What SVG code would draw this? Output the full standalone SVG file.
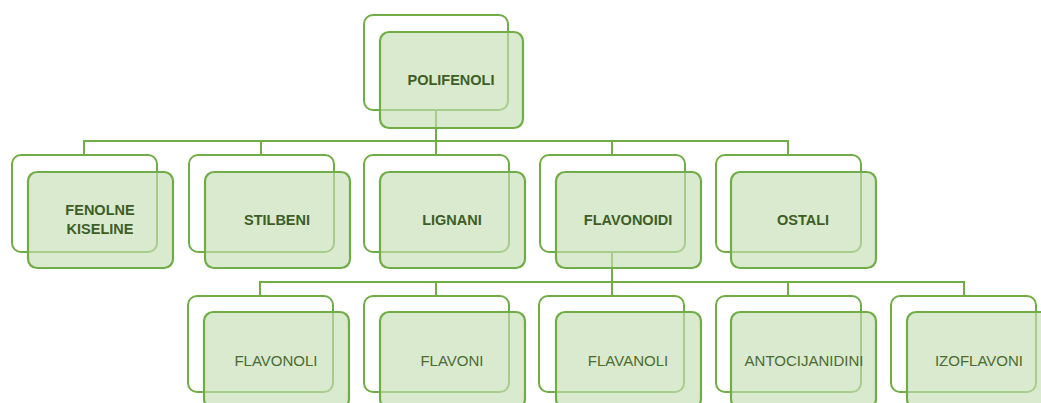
<svg xmlns="http://www.w3.org/2000/svg" width="1041" height="403" viewBox="0 0 1041 403">
<style>
.bk{fill:#ffffff;stroke:#70ad47;stroke-width:2}
.fr{fill:#c5deb3;fill-opacity:0.65;stroke:#70ad47;stroke-width:2.2}
.c{fill:none;stroke:#70ad47;stroke-width:2}
.t{font-family:"Liberation Sans",Arial,sans-serif;font-size:14.5px;font-weight:bold;fill:#3d5e27;text-anchor:middle;dominant-baseline:central}
.r{font-family:"Liberation Sans",Arial,sans-serif;font-size:15px;fill:#4a6b34;text-anchor:middle;dominant-baseline:central}
</style>
<rect width="1041" height="403" fill="#ffffff"/>
<g id="back">
<rect class="bk" x="364" y="15" width="144" height="95" rx="9"/>
<rect class="bk" x="12" y="155" width="145" height="97" rx="9"/>
<rect class="bk" x="189" y="155" width="145" height="97" rx="9"/>
<rect class="bk" x="364" y="155" width="145" height="97" rx="9"/>
<rect class="bk" x="540" y="155" width="145" height="97" rx="9"/>
<rect class="bk" x="716" y="155" width="145" height="97" rx="9"/>
<rect class="bk" x="188" y="296" width="145" height="96" rx="9"/>
<rect class="bk" x="364" y="296" width="145" height="96" rx="9"/>
<rect class="bk" x="539" y="296" width="145" height="96" rx="9"/>
<rect class="bk" x="716" y="296" width="145" height="96" rx="9"/>
<rect class="bk" x="891" y="296" width="145" height="96" rx="9"/>
</g>
<g id="connectors">
<path class="c" d="M436 110 V141 M84 155 V141 H788 V155 M261 141 V155 M436 141 V155 M612 141 V155"/>
<path class="c" d="M612 252 V282 M260 296 V282 H964 V296 M436 282 V296 M612 282 V296 M788 282 V296"/>
</g>
<g id="n-polifenoli"><rect class="fr" x="380" y="32" width="143" height="96" rx="9"/><text class="t" x="451" y="80">POLIFENOLI</text></g>
<g id="n-fenolne"><rect class="fr" x="28" y="172" width="145" height="96" rx="9"/><text class="t" x="100" y="210">FENOLNE</text><text class="t" x="100" y="229">KISELINE</text></g>
<g id="n-stilbeni"><rect class="fr" x="205" y="172" width="145" height="96" rx="9"/><text class="t" x="277" y="220">STILBENI</text></g>
<g id="n-lignani"><rect class="fr" x="380" y="172" width="145" height="96" rx="9"/><text class="t" x="452" y="220">LIGNANI</text></g>
<g id="n-flavonoidi"><rect class="fr" x="556" y="172" width="145" height="96" rx="9"/><text class="t" x="628" y="220">FLAVONOIDI</text></g>
<g id="n-ostali"><rect class="fr" x="731" y="172" width="145" height="96" rx="9"/><text class="t" x="803" y="220">OSTALI</text></g>
<g id="n-flavonoli"><rect class="fr" x="204" y="312" width="145" height="96" rx="9"/><text class="r" x="276" y="360">FLAVONOLI</text></g>
<g id="n-flavoni"><rect class="fr" x="380" y="312" width="145" height="96" rx="9"/><text class="r" x="452" y="360">FLAVONI</text></g>
<g id="n-flavanoli"><rect class="fr" x="556" y="312" width="145" height="96" rx="9"/><text class="r" x="628" y="360">FLAVANOLI</text></g>
<g id="n-antocijanidini"><rect class="fr" x="731" y="312" width="145" height="96" rx="9"/><text class="r" x="804" y="360">ANTOCIJANIDINI</text></g>
<g id="n-izoflavoni"><rect class="fr" x="907" y="312" width="145" height="96" rx="9"/><text class="r" x="979" y="360">IZOFLAVONI</text></g>
</svg>
